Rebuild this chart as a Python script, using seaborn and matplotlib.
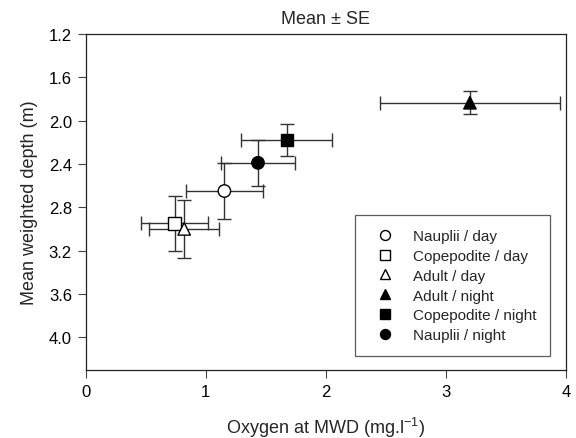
import matplotlib
matplotlib.use("Agg")
import matplotlib.pyplot as plt
import seaborn as sns
import pandas as pd

labels = ["Nauplii / day", "Copepodite / day", "Adult / day",
          "Adult / night", "Copepodite / night", "Nauplii / night"]
oxygen = [1.155, 0.74, 0.82, 3.20, 1.675, 1.435]
oxygen_se = [0.32, 0.28, 0.29, 0.75, 0.38, 0.31]
depth = [2.65, 2.95, 3.00, 1.835, 2.18, 2.39]
depth_se = [0.26, 0.25, 0.27, 0.105, 0.145, 0.215]
markers = ["o", "s", "^", "^", "s", "o"]
fills = ["white", "white", "white", "black", "black", "black"]

df = pd.DataFrame({"label": labels, "x": oxygen, "xe": oxygen_se,
                   "y": depth, "ye": depth_se})

sns.set_theme(style="ticks")
plt.rcParams["font.family"] = ["Liberation Sans", "DejaVu Sans"]
plt.rcParams["mathtext.fontset"] = "custom"
plt.rcParams["mathtext.rm"] = "Liberation Sans"
plt.rcParams["mathtext.it"] = "Liberation Sans"

fig = plt.figure(figsize=(5.76, 4.39), dpi=100)
ax = fig.add_axes([0.1488, 0.1556, 0.8338, 0.7647])

for _, r in df.iterrows():
    ax.errorbar(r["x"], r["y"], xerr=r["xe"], yerr=r["ye"], fmt="none",
                ecolor="#333333", elinewidth=1.0, capsize=5, capthick=1.0,
                zorder=2)

sns.scatterplot(data=df, x="x", y="y", hue="label", style="label",
                hue_order=labels, style_order=labels,
                palette=dict(zip(labels, fills)),
                markers=dict(zip(labels, markers)),
                s=80, edgecolor="black", linewidth=1.0, ax=ax, zorder=3)

ax.set_xlim(0, 4)
ax.set_ylim(4.3, 1.2)
ax.set_xticks([0, 1, 2, 3, 4])
ax.set_yticks([1.2, 1.6, 2.0, 2.4, 2.8, 3.2, 3.6, 4.0])
ax.set_yticklabels(["1.2", "1.6", "2.0", "2.4", "2.8", "3.2", "3.6", "4.0"])
ax.tick_params(axis="both", labelsize=12, length=6, width=0.8, pad=4,
               colors="#444444", labelcolor="black")
for sp in ax.spines.values():
    sp.set_visible(True)
    sp.set_color("#222222")
    sp.set_linewidth(0.9)

ax.set_xlabel("Oxygen at MWD (mg.l$^{\\mathregular{-1}}$)", fontsize=13, labelpad=12)
ax.set_ylabel("Mean weighted depth (m)", fontsize=13, labelpad=8)
ax.set_title("Mean \u00b1 SE", fontsize=13, pad=8)

leg = ax.legend(title=None, loc="lower right", bbox_to_anchor=(0.9667, 0.041),
                fontsize=11, frameon=True, fancybox=False, edgecolor="#333333",
                borderpad=0.9, labelspacing=0.38, handletextpad=0.7,
                handlelength=2.2, borderaxespad=0, markerscale=0.8)
leg.get_frame().set_linewidth(0.9)

fig.savefig("out.png", dpi=100)
